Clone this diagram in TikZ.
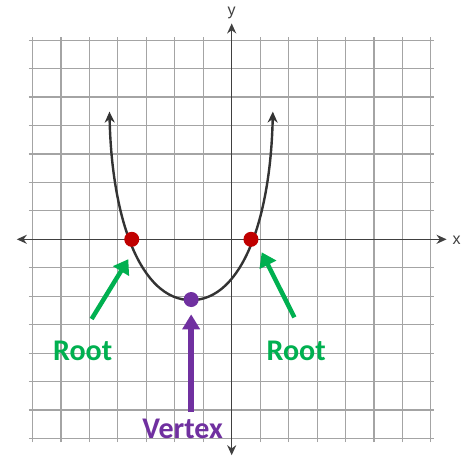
\documentclass[tikz,border=0pt]{standalone}
\usepackage{fontspec}
\setmainfont{Carlito}
\newfontfamily\axisfont{Liberation Sans}
\usetikzlibrary{arrows.meta}
\definecolor{gridgray}{HTML}{A4A4A4}
\definecolor{axisgray}{HTML}{404040}
\definecolor{curvegray}{HTML}{333333}
\definecolor{rootred}{HTML}{C00000}
\definecolor{vpurple}{HTML}{7030A0}
\definecolor{rgreen}{HTML}{00B050}
\tikzset{
  gridline/.style={draw=gridgray, line width=1.1pt},
  axisline/.style={draw=axisgray, line width=1.6pt, {Stealth[length=10pt,width=9pt]}-{Stealth[length=10pt,width=9pt]}},
  curveline/.style={draw=curvegray, line width=2.4pt, {Stealth[length=11pt,width=10pt]}-{Stealth[length=11pt,width=10pt]}},
  rootdot/.style={circle, fill=rootred, minimum size=15pt, inner sep=0pt},
  vertdot/.style={circle, fill=vpurple, minimum size=15pt, inner sep=0pt},
  greenarrow/.style={draw=rgreen, line width=4.5pt, -{Triangle[length=14pt,width=18pt]}},
  purplearrow/.style={draw=vpurple, line width=5.5pt, -{Triangle[length=15pt,width=17pt]}},
  axlabel/.style={text=axisgray, font=\axisfont\fontsize{16pt}{16pt}\selectfont, inner sep=0pt},
  biglabel/.style={font=\bfseries\fontsize{30pt}{30pt}\selectfont, inner sep=0pt},
}
\begin{document}
\begin{tikzpicture}[x=20.27pt, y=20.27pt]
\useasboundingbox (-11.43,-10.79) rectangle (11.756,11.806);
\fill[white] (-11.43,-10.79) rectangle (11.756,11.806);
% grid
\draw[gridline] (-10,-10) grid (10,10);
% axes
\coordinate (xl) at (-10.6,0);
\coordinate (xr) at (10.6,0);
\coordinate (yb) at (0,-10.65);
\coordinate (yt) at (0,10.65);
\draw[axisline] (xl) -- (xr);
\draw[axisline] (yb) -- (yt);
\node[axlabel] (xlab) at (11.1,-0.05) {x};
\node[axlabel] (ylab) at (0,11.15) {y};
% curve
\coordinate (cl) at (-6.03,6.3);
\coordinate (cv) at (-2,-3);
\coordinate (cr) at (2.03,6.3);
\draw[curveline] (cl) .. controls (-5.92,1.0) and (-4.5,-3) .. (cv)
  .. controls (0.5,-3) and (1.92,1.0) .. (cr);
% points
\node[rootdot] (r1) at (-4.93,0) {};
\node[rootdot] (r2) at (0.95,0) {};
\node[vertdot] (v) at (-2,-2.97) {};
% labels
\node[biglabel, text=rgreen] (root1) at (-7.35,-5.5) {Root};
\node[biglabel, text=rgreen] (root2) at (3.18,-5.5) {Root};
\node[biglabel, text=vpurple] (vlab) at (-2.42,-9.36) {Vertex};
% arrows
\coordinate (a1s) at (-6.91,-3.93);
\coordinate (a1e) at (-5.1,-0.98);
\coordinate (a2s) at (3.09,-3.85);
\coordinate (a2e) at (1.48,-0.64);
\coordinate (a3s) at (-2.0,-8.5);
\coordinate (a3e) at (-2.0,-3.7);
\draw[greenarrow] (a1s) -- (a1e);
\draw[greenarrow] (a2s) -- (a2e);
\draw[purplearrow] (a3s) -- (a3e);
\end{tikzpicture}
\end{document}
